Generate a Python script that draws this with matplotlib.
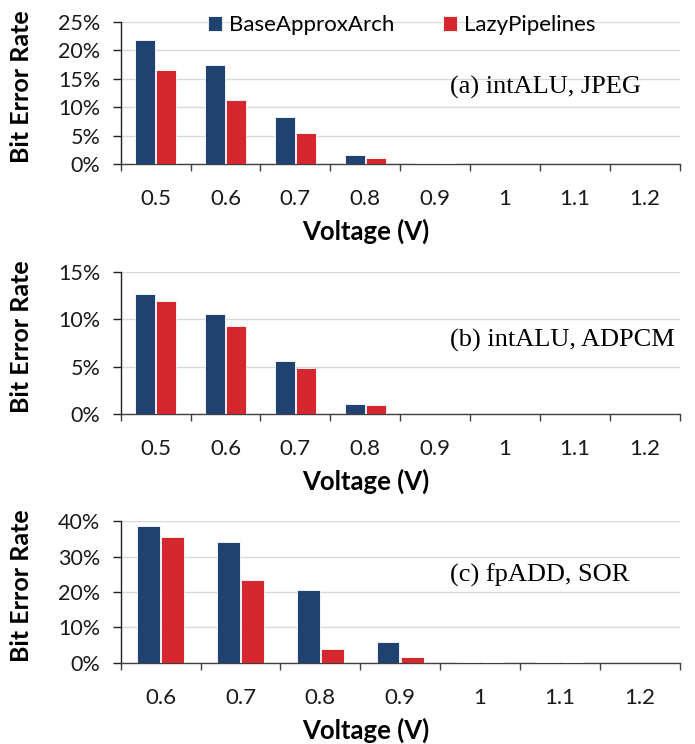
import numpy as np
import matplotlib
matplotlib.use("Agg")
import matplotlib.pyplot as plt
from matplotlib.ticker import FixedLocator, PercentFormatter

# series names
series_names = ["BaseApproxArch", "LazyPipelines"]

# panel (a) intALU, JPEG
volt_a = ["0.5", "0.6", "0.7", "0.8", "0.9", "1", "1.1", "1.2"]
base_a = [21.9, 17.5, 8.3, 1.6, 0.15, 0.0, 0.0, 0.0]
lazy_a = [16.5, 11.3, 5.5, 1.1, 0.1, 0.0, 0.0, 0.0]

# panel (b) intALU, ADPCM
volt_b = ["0.5", "0.6", "0.7", "0.8", "0.9", "1", "1.1", "1.2"]
base_b = [12.7, 10.6, 5.55, 1.1, 0.0, 0.0, 0.0, 0.0]
lazy_b = [11.9, 9.3, 4.85, 0.95, 0.0, 0.0, 0.0, 0.0]

# panel (c) fpADD, SOR
volt_c = ["0.6", "0.7", "0.8", "0.9", "1", "1.1", "1.2"]
base_c = [38.5, 34.2, 20.7, 5.9, 0.2, 0.2, 0.0]
lazy_c = [35.4, 23.4, 4.0, 1.8, 0.2, 0.2, 0.0]

titles = ["(a) intALU, JPEG", "(b) intALU, ADPCM", "(c) fpADD, SOR"]
title_y = [0.537, 0.52, 0.62]
ymax = [25, 15, 40]
ystep = [5, 5, 10]

BLUE = "#1f4270"
RED = "#d7272e"
SANS = ["Lato", "DejaVu Sans"]
SERIF = ["Liberation Serif", "DejaVu Serif"]

fig = plt.figure(figsize=(6.95, 7.44), dpi=100)
left, right = 0.1737, 0.978
boxes = [(0.7796, 0.9704), (0.4435, 0.6344), (0.1089, 0.2997)]

panels = [(volt_a, base_a, lazy_a), (volt_b, base_b, lazy_b), (volt_c, base_c, lazy_c)]

for i, (labels, base, lazy) in enumerate(panels):
    bot, top = boxes[i]
    ax = fig.add_axes([left, bot, right - left, top - bot])
    x = np.arange(len(labels))
    w = 0.285
    b1 = ax.bar(x - w / 2 - 0.01, base, w, color=BLUE, edgecolor="white", linewidth=0.6, zorder=3)
    b2 = ax.bar(x + w / 2 + 0.01, lazy, w, color=RED, edgecolor="white", linewidth=0.6, zorder=3)

    ax.set_xlim(-0.5, len(labels) - 0.5)
    ax.set_ylim(0, ymax[i])
    ax.set_yticks(np.arange(0, ymax[i] + 0.1, ystep[i]))
    ax.yaxis.set_major_formatter(PercentFormatter(decimals=0))
    ax.grid(axis="y", color="#d9d9d9", linewidth=1.0, zorder=0)

    ax.set_xticks(x)
    ax.set_xticklabels(labels)
    ax.xaxis.set_minor_locator(FixedLocator(np.arange(-0.5, len(labels), 1.0)))
    ax.tick_params(axis="x", which="major", length=0, pad=18)
    ax.tick_params(axis="x", which="minor", length=5, width=1.0, color="#404040")
    ax.tick_params(axis="y", length=5.8, width=1.0, color="#202020", pad=9)

    for s in ["top", "right"]:
        ax.spines[s].set_visible(False)
    ax.spines["bottom"].set_color("#404040")
    ax.spines["bottom"].set_linewidth(1.0)
    ax.spines["left"].set_color("#202020")
    ax.spines["left"].set_linewidth(1.0)

    for lab in ax.get_xticklabels():
        lab.set_fontfamily(SANS)
        lab.set_fontsize(16)
        lab.set_color("#1a1a1a")
    for lab in ax.get_yticklabels():
        lab.set_fontfamily(SANS)
        lab.set_fontsize(15.5)
        lab.set_color("#1a1a1a")

    ax.set_ylabel("Bit Error Rate", fontfamily=SANS, fontsize=18, fontweight="bold")
    ax.yaxis.set_label_coords(-0.157, 0.545)
    ax.set_xlabel("Voltage (V)", fontfamily=SANS, fontsize=18.5, fontweight="bold", va="center")
    ax.xaxis.set_label_coords(0.439, -0.473)

    ax.text(0.589, title_y[i], titles[i], transform=ax.transAxes,
            fontfamily=SERIF, fontsize=19, ha="left", va="center")

    if i == 0:
        ax.legend([b1, b2], series_names, loc="center left", bbox_to_anchor=(0.156, 0.976),
                  ncol=2, frameon=False, prop={"family": SANS, "size": 16},
                  handlelength=0.64, handleheight=0.64, columnspacing=2.2,
                  handletextpad=0.3, borderpad=0, borderaxespad=0)

fig.savefig("out.png", dpi=100)
